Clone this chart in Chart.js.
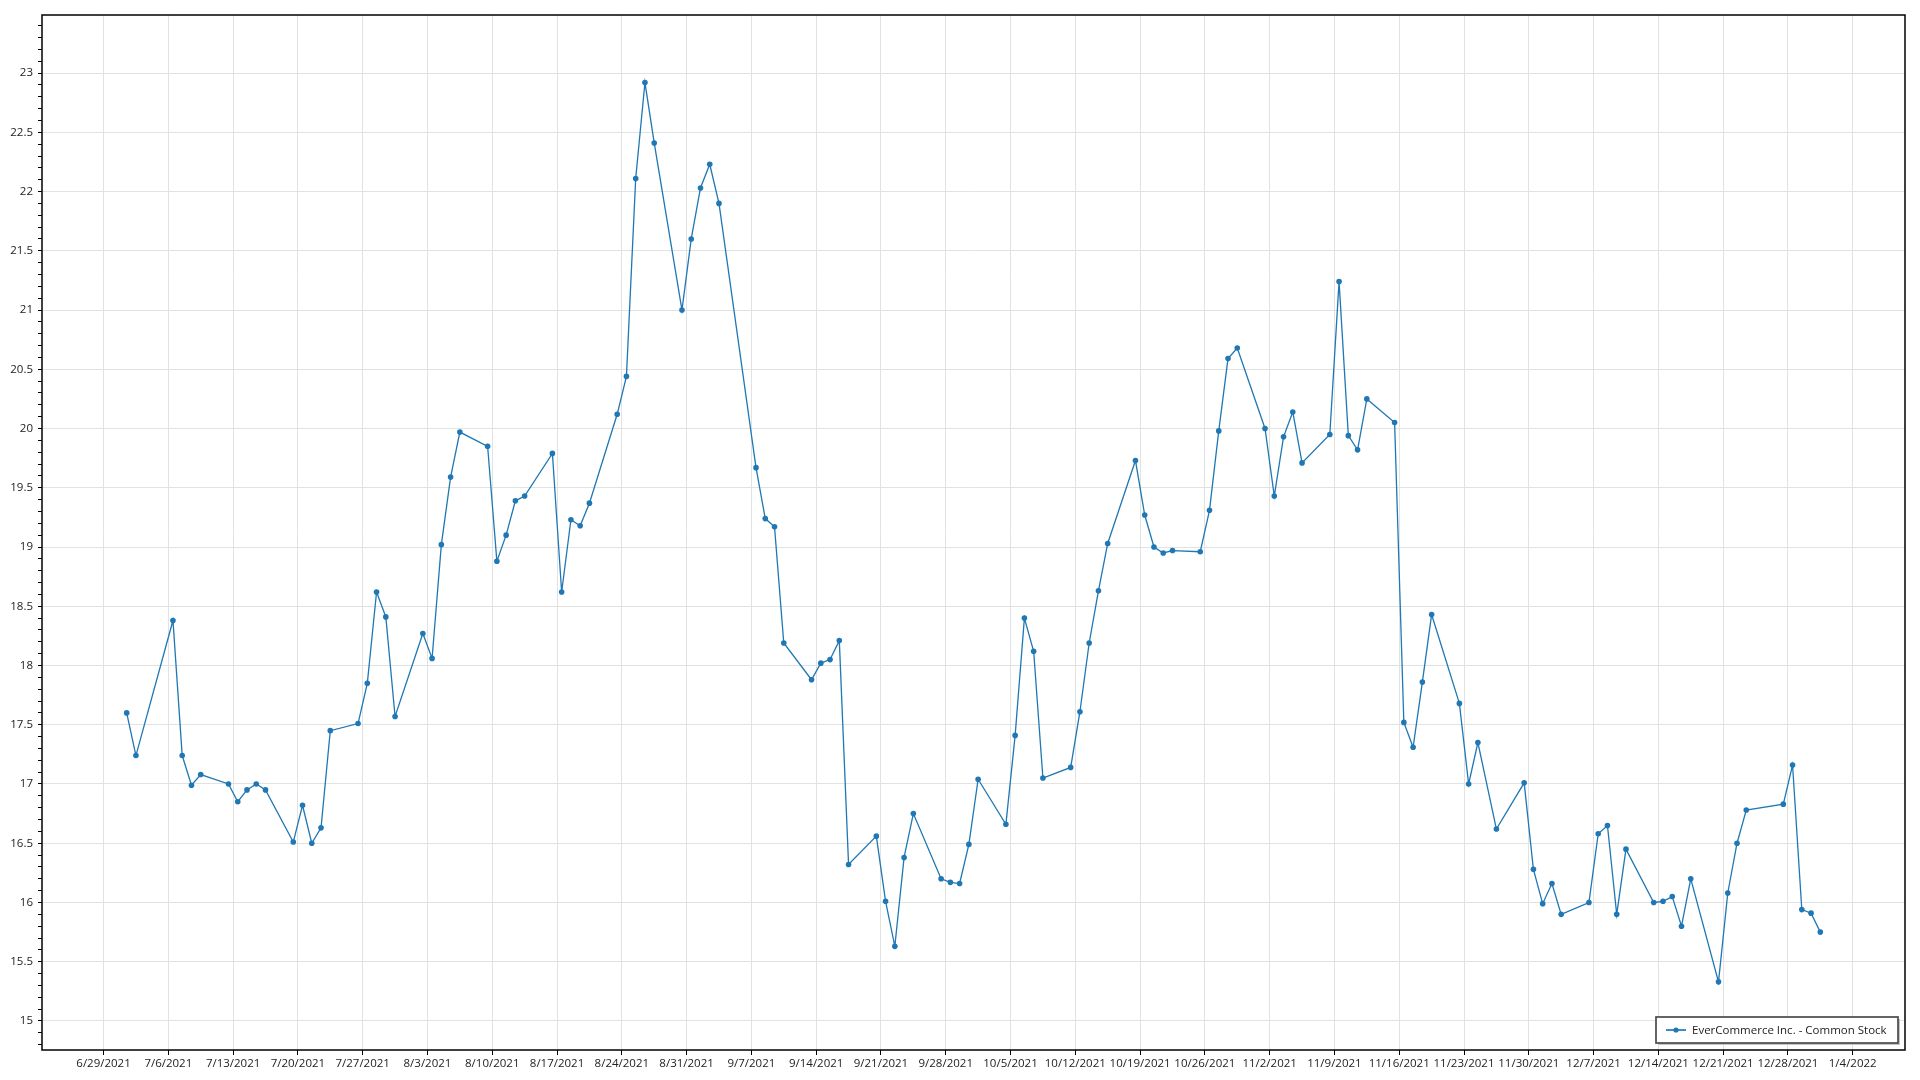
<!DOCTYPE html>
<html>
<head>
<meta charset="utf-8">
<title>EverCommerce Inc. - Common Stock</title>
<script src="https://cdn.jsdelivr.net/npm/chart.js@4.4.0/dist/chart.umd.min.js"></script>
<style>
  html, body { margin: 0; padding: 0; background: #fff; }
  #wrap { width: 1920px; height: 1080px; position: relative; }
</style>
</head>
<body>
<div id="wrap"><canvas id="chart"></canvas></div>
<script>
const seriesName = 'EverCommerce Inc. - Common Stock';

// trading days, closing price
const tradeDates = [
  '2021-07-01', '2021-07-02', '2021-07-06', '2021-07-07', '2021-07-08', '2021-07-09',
  '2021-07-12', '2021-07-13', '2021-07-14', '2021-07-15', '2021-07-16',
  '2021-07-19', '2021-07-20', '2021-07-21', '2021-07-22', '2021-07-23',
  '2021-07-26', '2021-07-27', '2021-07-28', '2021-07-29', '2021-07-30',
  '2021-08-02', '2021-08-03', '2021-08-04', '2021-08-05', '2021-08-06',
  '2021-08-09', '2021-08-10', '2021-08-11', '2021-08-12', '2021-08-13',
  '2021-08-16', '2021-08-17', '2021-08-18', '2021-08-19', '2021-08-20',
  '2021-08-23', '2021-08-24', '2021-08-25', '2021-08-26', '2021-08-27',
  '2021-08-30', '2021-08-31', '2021-09-01', '2021-09-02', '2021-09-03',
  '2021-09-07', '2021-09-08', '2021-09-09', '2021-09-10',
  '2021-09-13', '2021-09-14', '2021-09-15', '2021-09-16', '2021-09-17',
  '2021-09-20', '2021-09-21', '2021-09-22', '2021-09-23', '2021-09-24',
  '2021-09-27', '2021-09-28', '2021-09-29', '2021-09-30', '2021-10-01',
  '2021-10-04', '2021-10-05', '2021-10-06', '2021-10-07', '2021-10-08',
  '2021-10-11', '2021-10-12', '2021-10-13', '2021-10-14', '2021-10-15',
  '2021-10-18', '2021-10-19', '2021-10-20', '2021-10-21', '2021-10-22',
  '2021-10-25', '2021-10-26', '2021-10-27', '2021-10-28', '2021-10-29',
  '2021-11-01', '2021-11-02', '2021-11-03', '2021-11-04', '2021-11-05',
  '2021-11-08', '2021-11-09', '2021-11-10', '2021-11-11', '2021-11-12',
  '2021-11-15', '2021-11-16', '2021-11-17', '2021-11-18', '2021-11-19',
  '2021-11-22', '2021-11-23', '2021-11-24', '2021-11-26',
  '2021-11-29', '2021-11-30', '2021-12-01', '2021-12-02', '2021-12-03',
  '2021-12-06', '2021-12-07', '2021-12-08', '2021-12-09', '2021-12-10',
  '2021-12-13', '2021-12-14', '2021-12-15', '2021-12-16', '2021-12-17',
  '2021-12-20', '2021-12-21', '2021-12-22', '2021-12-23',
  '2021-12-27', '2021-12-28', '2021-12-29', '2021-12-30', '2021-12-31'
];

const closePrices = [
  17.60, 17.24, 18.38, 17.24, 16.99, 17.08,
  17.00, 16.85, 16.95, 17.00, 16.95,
  16.51, 16.82, 16.50, 16.63, 17.45,
  17.51, 17.85, 18.62, 18.41, 17.57,
  18.27, 18.06, 19.02, 19.59, 19.97,
  19.85, 18.88, 19.10, 19.39, 19.43,
  19.79, 18.62, 19.23, 19.18, 19.37,
  20.12, 20.44, 22.11, 22.92, 22.41,
  21.00, 21.60, 22.03, 22.23, 21.90,
  19.67, 19.24, 19.17, 18.19,
  17.88, 18.02, 18.05, 18.21, 16.32,
  16.56, 16.01, 15.63, 16.38, 16.75,
  16.20, 16.17, 16.16, 16.49, 17.04,
  16.66, 17.41, 18.40, 18.12, 17.05,
  17.14, 17.61, 18.19, 18.63, 19.03,
  19.73, 19.27, 19.00, 18.95, 18.97,
  18.96, 19.31, 19.98, 20.59, 20.68,
  20.00, 19.43, 19.93, 20.14, 19.71,
  19.95, 21.24, 19.94, 19.82, 20.25,
  20.05, 17.52, 17.31, 17.86, 18.43,
  17.68, 17.00, 17.35, 16.62,
  17.01, 16.28, 15.99, 16.16, 15.90,
  16.00, 16.58, 16.65, 15.90, 16.45,
  16.00, 16.01, 16.05, 15.80, 16.20,
  15.33, 16.08, 16.50, 16.78,
  16.83, 17.16, 15.94, 15.91, 15.75
];

const xTickLabels = [
  '6/29/2021', '7/6/2021', '7/13/2021', '7/20/2021', '7/27/2021', '8/3/2021', '8/10/2021',
  '8/17/2021', '8/24/2021', '8/31/2021', '9/7/2021', '9/14/2021', '9/21/2021', '9/28/2021',
  '10/5/2021', '10/12/2021', '10/19/2021', '10/26/2021', '11/2/2021', '11/9/2021', '11/16/2021',
  '11/23/2021', '11/30/2021', '12/7/2021', '12/14/2021', '12/21/2021', '12/28/2021', '1/4/2022'
];

const yTickLabels = [15, 15.5, 16, 16.5, 17, 17.5, 18, 18.5, 19, 19.5, 20, 20.5, 21, 21.5, 22, 22.5, 23];
const yMin = 14.755;
const yMax = 23.49;

const DAY = 86400000;
// closes are plotted at midday of their trading day
function isoToMs(s) {
  const [y, m, d] = s.split('-').map(Number);
  return Date.UTC(y, m - 1, d) + DAY / 2;
}
function labelToMs(s) {
  const [m, d, y] = s.split('/').map(Number);
  return Date.UTC(y, m - 1, d);
}
function isMajorY(v) {
  return yTickLabels.some(t => Math.abs(t - v) < 1e-6);
}

const points = tradeDates.map((d, i) => ({ x: isoToMs(d), y: closePrices[i] }));
const xFirst = points[0].x;
const xLast = points[points.length - 1].x;
const xPad = (xLast - xFirst) * 0.05;

const lineColor = '#1f77b4';
const gridColor = '#e2e2e2';
const tickFont = { family: '"Open Sans", "Noto Sans", sans-serif', size: 11.5 };

// frame round the plot + legend box in the lower right corner
const frameAndLegend = {
  id: 'frameAndLegend',
  afterDraw(chart) {
    const { ctx, chartArea: a } = chart;
    ctx.save();
    ctx.strokeStyle = '#000';
    ctx.lineWidth = 1.5;
    ctx.strokeRect(a.left, a.top, a.right - a.left, a.bottom - a.top);

    const ds = chart.data.datasets[0];
    ctx.font = '11.5px "Open Sans", "Noto Sans", sans-serif';
    const textW = ctx.measureText(ds.label).width;
    const boxW = Math.round(textW + 47);
    const boxH = 26;
    const bx = Math.round(a.right - 7 - boxW);
    const by = Math.round(a.bottom - 7 - boxH);

    ctx.fillStyle = '#c4c4c4';
    ctx.fillRect(bx + 2, by + 2, boxW, boxH);
    ctx.fillStyle = '#fff';
    ctx.fillRect(bx, by, boxW, boxH);
    ctx.strokeStyle = '#4a4a4a';
    ctx.lineWidth = 1.7;
    ctx.strokeRect(bx, by, boxW, boxH);

    const cy = by + boxH / 2;
    ctx.strokeStyle = ds.borderColor;
    ctx.globalAlpha = 0.85;
    ctx.lineWidth = 2;
    ctx.beginPath();
    ctx.moveTo(bx + 10, cy);
    ctx.lineTo(bx + 30, cy);
    ctx.stroke();
    ctx.globalAlpha = 1;
    ctx.fillStyle = ds.pointBackgroundColor;
    ctx.beginPath();
    ctx.arc(bx + 20, cy, 2.6, 0, Math.PI * 2);
    ctx.fill();

    ctx.fillStyle = '#222';
    ctx.textBaseline = 'middle';
    ctx.textAlign = 'left';
    ctx.fillText(ds.label, bx + 36, cy + 0.5);
    ctx.restore();
  }
};

new Chart(document.getElementById('chart'), {
  type: 'line',
  data: {
    datasets: [{
      label: seriesName,
      data: points,
      borderColor: lineColor,
      borderWidth: 1.3,
      pointRadius: 2.8,
      pointBorderWidth: 0,
      pointBackgroundColor: lineColor,
      tension: 0,
      fill: false
    }]
  },
  options: {
    responsive: true,
    maintainAspectRatio: false,
    animation: false,
    layout: { padding: { top: 15, right: 15, left: 0, bottom: 0 } },
    plugins: {
      legend: { display: false },
      tooltip: { enabled: false }
    },
    scales: {
      x: {
        type: 'linear',
        min: xFirst - xPad,
        max: xLast + xPad,
        afterBuildTicks: s => { s.ticks = xTickLabels.map(l => ({ value: labelToMs(l) })); },
        afterFit: s => { s.height = 30; },
        ticks: {
          autoSkip: false,
          maxRotation: 0,
          padding: 2,
          color: '#222',
          font: tickFont,
          callback: (v, i) => xTickLabels[i]
        },
        grid: { color: gridColor, tickColor: '#000', tickLength: 5 },
        border: { display: false }
      },
      y: {
        type: 'linear',
        min: yMin,
        max: yMax,
        afterBuildTicks: s => {
          const t = [];
          for (let k = Math.ceil(yMin * 10); k <= Math.floor(yMax * 10); k++) t.push({ value: k / 10 });
          s.ticks = t;
        },
        afterFit: s => { s.width = 42; },
        ticks: {
          autoSkip: false,
          padding: 5,
          color: '#222',
          font: tickFont,
          callback: v => isMajorY(v) ? String(Math.round(v * 10) / 10) : ''
        },
        grid: {
          color: c => (c.tick && isMajorY(c.tick.value)) ? gridColor : 'rgba(0,0,0,0)',
          tickColor: '#000',
          tickLength: 4
        },
        border: { display: false }
      }
    }
  },
  plugins: [frameAndLegend]
});
</script>
</body>
</html>
